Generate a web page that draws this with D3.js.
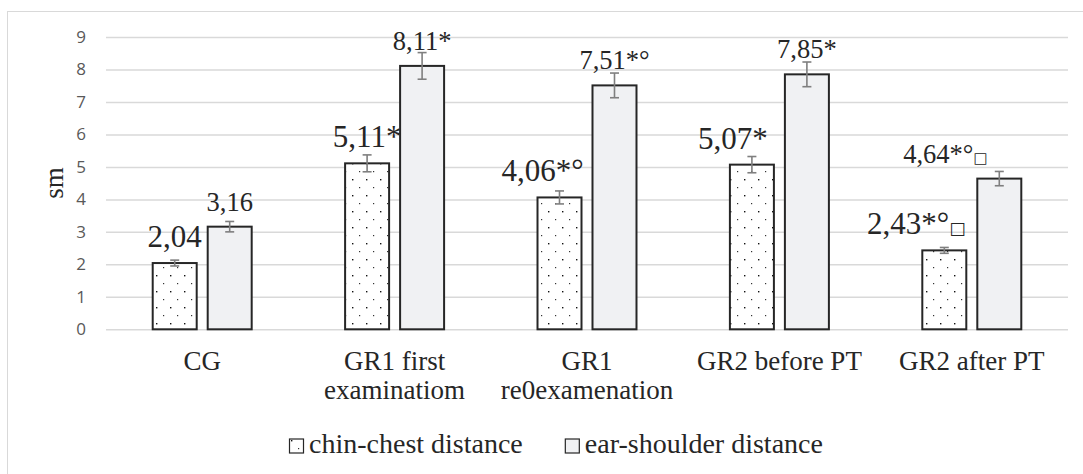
<!DOCTYPE html>
<html>
<head>
<meta charset="utf-8">
<script src="https://cdn.jsdelivr.net/npm/d3@7"></script>
<style>
  body { margin: 0; background: #fff; }
  svg { display: block; }
</style>
</head>
<body>
<svg class="chart"></svg>
<script>
// data
var categories = ["CG", "GR1 first examinatiom", "GR1 re0examenation", "GR2 before PT", "GR2 after PT"];
var tickLabels = ["CG", "GR1 first\nexaminatiom", "GR1\nre0examenation", "GR2 before PT", "GR2 after PT"];
var seriesNames = ["chin-chest distance", "ear-shoulder distance"];
var chinValues = [2.04, 5.11, 4.06, 5.07, 2.43];
var earValues = [3.16, 8.11, 7.51, 7.85, 4.64];
var chinErr = [0.09, 0.26, 0.2, 0.25, 0.09];
var earErr = [0.16, 0.41, 0.38, 0.38, 0.22];
var chinLabels = ["2,04", "5,11*", "4,06*°", "5,07*", "2,43*°"];
var earLabels = ["3,16", "8,11*", "7,51*°", "7,85*", "4,64*°"];
var chinMarks = ["", "", "", "", "□"];
var earMarks = ["", "", "", "", "□"];
var yTicks = [0, 1, 2, 3, 4, 5, 6, 7, 8, 9];

var W = 1083, H = 474;
var margin = {top: 37, right: 15, bottom: 145, left: 106};
var y0 = 329.3;
var serif = "'Liberation Serif', 'Times New Roman', serif";

var svg = d3.select(".chart").attr("width", W).attr("height", H);

// dotted pattern for the first series
var defs = svg.append("defs");
var pat = defs.append("pattern")
    .attr("id", "dots")
    .attr("patternUnits", "userSpaceOnUse")
    .attr("width", 14).attr("height", 16);
pat.append("rect").attr("width", 14).attr("height", 16).attr("fill", "#fff");
pat.append("rect").attr("x", 2).attr("y", 3).attr("width", 1.4).attr("height", 1.4).attr("fill", "#111");
pat.append("rect").attr("x", 9).attr("y", 11).attr("width", 1.2).attr("height", 1.2).attr("fill", "#333");

// outer frame
svg.append("rect")
    .attr("x", 7.5).attr("y", 11.5)
    .attr("width", 1090).attr("height", 480)
    .attr("fill", "none")
    .attr("stroke", "#d9d9d9")
    .attr("stroke-width", 1);

var x0 = d3.scaleBand()
    .domain(categories)
    .range([margin.left, W - margin.right])
    .paddingInner(0.4855)
    .paddingOuter(0.24275);

var x1 = d3.scaleBand()
    .domain([0, 1])
    .range([0, x0.bandwidth()])
    .paddingInner(0.2);

var y = d3.scaleLinear()
    .domain([0, 9])
    .range([y0, margin.top]);

// y axis with gridlines
var yAxis = g => g
    .attr("transform", "translate(" + margin.left + ",0)")
    .call(d3.axisLeft(y).tickValues(yTicks).tickSize(-(W - margin.right - margin.left)).tickPadding(20))
    .call(g => g.select(".domain").remove())
    .call(g => g.selectAll(".tick line").attr("stroke", "#d9d9d9").attr("stroke-width", 1.5))
    .call(g => g.selectAll(".tick text")
        .attr("fill", "#595959")
        .style("font-family", "'Open Sans', 'Liberation Sans', sans-serif")
        .style("font-size", "17px"));

svg.append("g").call(yAxis);

// y title
svg.append("text")
    .attr("transform", "translate(63,183) rotate(-90)")
    .attr("text-anchor", "middle")
    .style("font-family", serif)
    .style("font-size", "27px")
    .attr("fill", "#262626")
    .text("sm");

// x axis labels
var xAxis = g => g
    .attr("transform", "translate(0," + y0 + ")")
    .call(d3.axisBottom(x0).tickSize(0).tickPadding(0).tickFormat((d, i) => tickLabels[i]))
    .call(g => g.select(".domain").remove())
    .call(g => g.selectAll(".tick text").each(function(d, i) {
        var t = d3.select(this);
        var lines = tickLabels[i].split("\n");
        t.text(null)
            .attr("y", 0)
            .attr("dy", null)
            .attr("fill", "#262626")
            .style("font-family", serif)
            .style("font-size", "27px");
        lines.forEach((l, k) => {
            t.append("tspan").attr("x", 0).attr("y", 41 + k * 29).text(l);
        });
    }));

svg.append("g").call(xAxis);

// bars
var series = [
  {values: chinValues, err: chinErr, labels: chinLabels, marks: chinMarks, fill: "url(#dots)", fontSize: 31, nudge: [0, 0, -17, -19, -28]},
  {values: earValues, err: earErr, labels: earLabels, marks: earMarks, fill: "#f0f1f3", fontSize: 26.5, nudge: [0, 0, 0, 0, -54]}
];

series.forEach(function(s, si) {
  var g = svg.append("g");
  var bx = i => x0(categories[i]) + x1(si);
  var bw = x1.bandwidth();

  g.selectAll("rect")
      .data(s.values)
    .enter().append("rect")
      .attr("x", (d, i) => bx(i))
      .attr("y", d => y(d))
      .attr("width", bw)
      .attr("height", d => y(0) - y(d))
      .attr("fill", s.fill)
      .attr("stroke", "#262626")
      .attr("stroke-width", 2);

  // error bars
  var eb = g.selectAll(".err")
      .data(s.values)
    .enter().append("g")
      .attr("class", "err")
      .attr("stroke", "#7f7f7f")
      .attr("stroke-width", 1.6);
  eb.append("line")
      .attr("x1", (d, i) => bx(i) + bw / 2).attr("x2", (d, i) => bx(i) + bw / 2)
      .attr("y1", (d, i) => y(d + s.err[i])).attr("y2", (d, i) => y(d - s.err[i]));
  eb.append("line")
      .attr("x1", (d, i) => bx(i) + bw / 2 - 4.5).attr("x2", (d, i) => bx(i) + bw / 2 + 4.5)
      .attr("y1", (d, i) => y(d + s.err[i])).attr("y2", (d, i) => y(d + s.err[i]));
  eb.append("line")
      .attr("x1", (d, i) => bx(i) + bw / 2 - 4.5).attr("x2", (d, i) => bx(i) + bw / 2 + 4.5)
      .attr("y1", (d, i) => y(d - s.err[i])).attr("y2", (d, i) => y(d - s.err[i]));

  // value labels
  var lab = g.selectAll(".lab")
      .data(s.values)
    .enter().append("text")
      .attr("class", "lab")
      .attr("x", (d, i) => bx(i) + bw / 2 + s.nudge[i])
      .attr("y", d => y(d) - 16)
      .attr("text-anchor", "middle")
      .attr("fill", "#262626")
      .style("font-family", serif)
      .style("font-size", s.fontSize + "px");
  lab.append("tspan").text((d, i) => s.labels[i]);
  lab.append("tspan")
      .style("font-family", "'DejaVu Sans', sans-serif")
      .style("font-size", (s.fontSize * 0.56) + "px")
      .text((d, i) => s.marks[i]);
});

// legend
var legend = svg.append("g").attr("transform", "translate(289,453)");
var lx = 0;
seriesNames.forEach(function(n, i) {
  var item = legend.append("g").attr("transform", "translate(" + lx + ",0)");
  item.append("rect")
      .attr("x", 0.5).attr("y", -14)
      .attr("width", 14).attr("height", 14)
      .attr("fill", i === 0 ? "url(#dots)" : "#f0f1f3")
      .attr("stroke", "#262626")
      .attr("stroke-width", 1.2);
  var t = item.append("text")
      .attr("x", 20).attr("y", 0)
      .attr("fill", "#262626")
      .style("font-family", serif)
      .style("font-size", "28px")
      .text(n);
  lx += 20 + t.node().getComputedTextLength() + 42;
});
</script>
</body>
</html>
